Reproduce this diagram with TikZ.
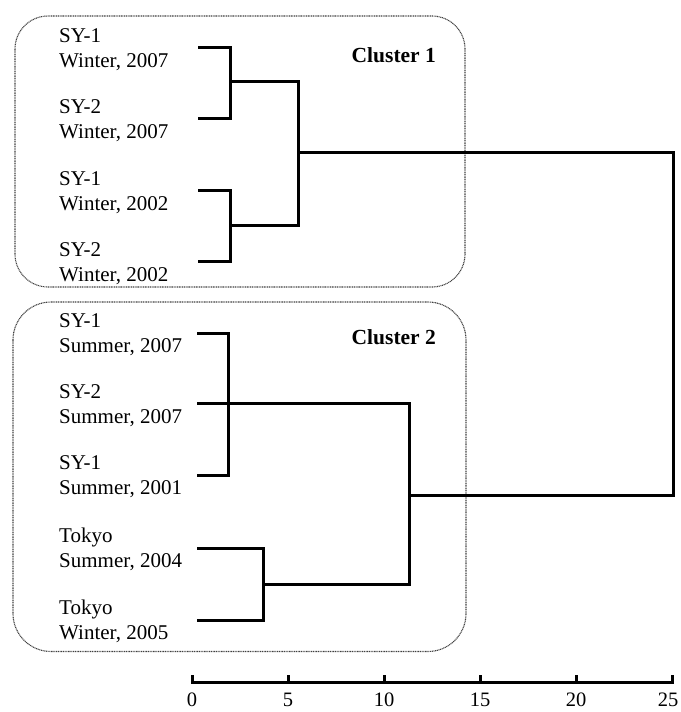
\documentclass[tikz,border=0pt]{standalone}
\usepackage{fontspec}
\setmainfont{Liberation Serif}
\begin{document}
\begin{tikzpicture}[x=1pt,y=-1pt,
  dend/.style={line width=3pt,line join=miter,line cap=butt},
  clusterbox/.style={line width=1.1pt,black!75,dash pattern=on 1pt off 0.7pt},
  leaflabel/.style={anchor=base west,inner sep=0pt,font=\fontsize{21}{25}\selectfont},
  clustertitle/.style={anchor=base west,inner sep=0pt,font=\fontsize{21.5}{25}\selectfont\bfseries},
  ticklabel/.style={anchor=base,inner sep=0pt,font=\fontsize{20.5}{25}\selectfont}]
\useasboundingbox (0,0) rectangle (680,712);

% cluster boxes
\draw[clusterbox,rounded corners=33pt] (15,16) rectangle (465,287);
\draw[clusterbox,rounded corners=38pt] (13,302) rectangle (466,651.5);
\node[clustertitle] (c1) at (351.5,62.7) {Cluster 1};
\node[clustertitle] (c2) at (351.5,344.3) {Cluster 2};

% leaf labels
\newcommand{\twolines}[2]{\begin{tabular}[t]{@{}l@{}}#1\\#2\end{tabular}}
\node[leaflabel] (t1) at (59,42.7)  {\twolines{SY-1}{Winter, 2007}};
\node[leaflabel] (t2) at (59,113.3) {\twolines{SY-2}{Winter, 2007}};
\node[leaflabel] (t3) at (59,185.5) {\twolines{SY-1}{Winter, 2002}};
\node[leaflabel] (t4) at (59,256.5) {\twolines{SY-2}{Winter, 2002}};
\node[leaflabel] (t5) at (59,327.5) {\twolines{SY-1}{Summer, 2007}};
\node[leaflabel] (t6) at (59,398)   {\twolines{SY-2}{Summer, 2007}};
\node[leaflabel] (t7) at (59,469.5) {\twolines{SY-1}{Summer, 2001}};
\node[leaflabel] (t8) at (59,542)   {\twolines{Tokyo}{Summer, 2004}};
\node[leaflabel] (t9) at (59,614)   {\twolines{Tokyo}{Winter, 2005}};

% leaf start points
\coordinate (l1) at (198,47.7);
\coordinate (l2) at (198,118.3);
\coordinate (l3) at (198,190.7);
\coordinate (l4) at (198,261.7);
\coordinate (l5) at (197,333.3);
\coordinate (l6) at (197,403.7);
\coordinate (l7) at (197,475);
\coordinate (l8) at (197,548.3);
\coordinate (l9) at (197,620);

% merge points : scale x = 192 + 19.2 v
\coordinate (m12) at (230,81);
\coordinate (m34) at (230,225);
\coordinate (mA)  at (298,152.7);
\coordinate (m57) at (228.5,403.7);
\coordinate (m89) at (263,584);
\coordinate (mB)  at (409,495.7);
\coordinate (root) at (673,324);

% cluster 1
\draw[dend] (l1) -| (m12) |- (l2);
\draw[dend] (l3) -| (m34) |- (l4);
\draw[dend] (m12) -| (mA) |- (m34);
% cluster 2
\draw[dend] (l5) -| (m57) |- (l7);
\draw[dend] (l8) -| (m89) |- (l9);
\draw[dend] (l6) -| (mB) |- (m89);
% root
\draw[dend] (mA) -| (root) |- (mB);

% axis
\coordinate (a0) at (192,682.7);
\coordinate (a25) at (672,682.7);
\draw[dend] (192,675) -- (a0) -- (a25) -- (672,675);
\foreach \v in {5,10,15,20}{
  \draw[dend] ({192+19.2*\v},682.7) -- ({192+19.2*\v},675);
}
\foreach \v in {0,5,10,15,20}{
  \node[ticklabel] (tick\v) at ({192+19.2*\v},706.5) {\v};
}
\node[ticklabel] (tick25) at (668,706.5) {25};
\end{tikzpicture}
\end{document}
